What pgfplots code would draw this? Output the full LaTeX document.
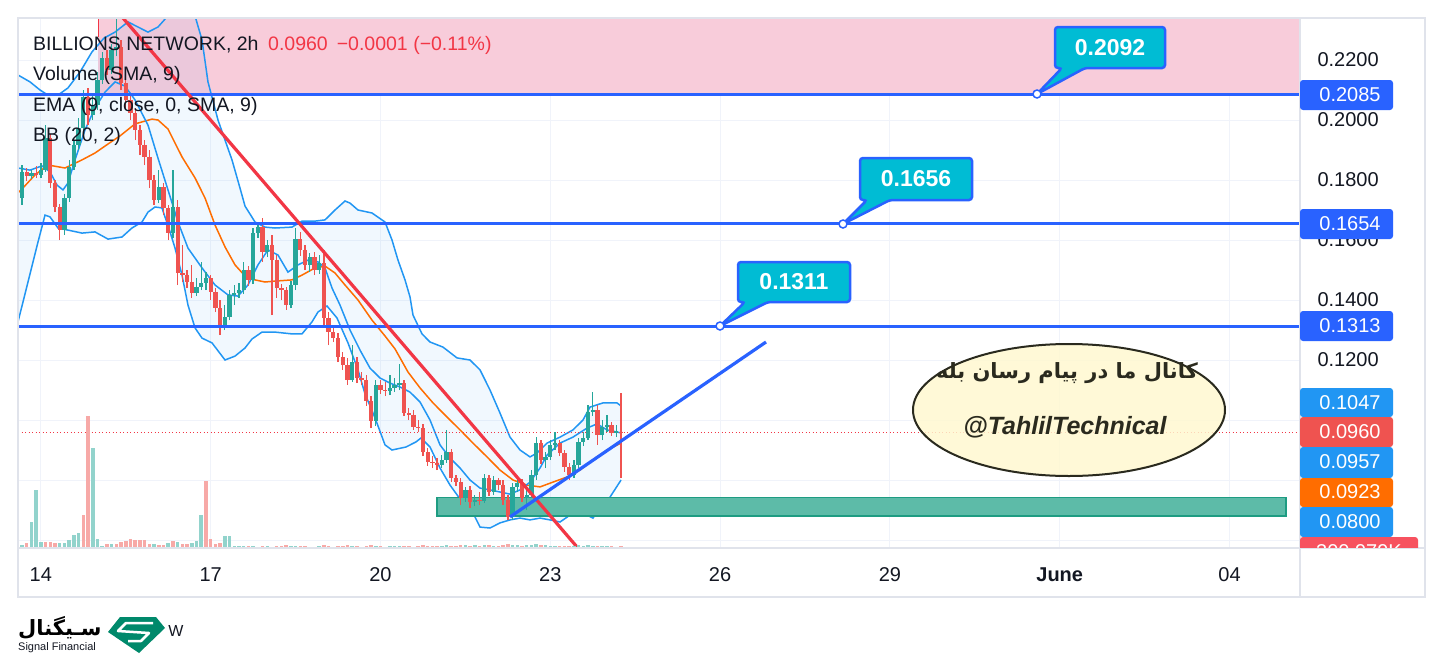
\documentclass[border=0pt]{standalone}
\usepackage{fontspec}
\setmainfont{Liberation Sans}
\newfontfamily\fafont[Script=Arabic]{DejaVu Sans}
\usepackage{pgfplots}
\usepackage{pgfplotstable}
\pgfplotsset{compat=1.18}
\TeXXeTstate=1
\definecolor{tvgreen}{HTML}{26A69A}
\definecolor{tvred}{HTML}{EF5350}
\definecolor{volgreen}{HTML}{92D3CC}
\definecolor{volred}{HTML}{F7A9A7}
\definecolor{bbline}{HTML}{2196F3}
\definecolor{emaorange}{HTML}{FF6D00}
\definecolor{lvlblue}{HTML}{2962FF}
\definecolor{pinkzone}{HTML}{F8CCDA}
\definecolor{callcyan}{HTML}{00BCD4}
\definecolor{trendred}{HTML}{F23645}
\definecolor{boxgreen}{HTML}{5DBBA8}
\definecolor{boxgreenb}{HTML}{1E9C82}
\definecolor{gridc}{HTML}{F0F3FA}
\definecolor{bordc}{HTML}{E0E3EB}
\definecolor{txtc}{HTML}{131722}
\definecolor{elltxt}{HTML}{2A2A1E}
\definecolor{ellfill}{HTML}{FFF8CF}
\definecolor{logogreen}{HTML}{00896B}
\definecolor{tagred}{HTML}{EF5350}
\definecolor{volred2}{HTML}{F7525F}
\pgfplotsset{colormap={candlemap}{color=(tvred) color=(tvgreen)},
             colormap={volmap}{color=(volred) color=(volgreen)}}

\pgfplotstableread{
i o h l c up
0 0.1740 0.1850 0.1717 0.1827 1
1 0.1827 0.1840 0.1797 0.1813 0
2 0.1813 0.1833 0.1803 0.1823 1
3 0.1823 0.1847 0.1807 0.1817 0
4 0.1817 0.1857 0.1807 0.1833 1
5 0.1833 0.1983 0.1827 0.1940 1
6 0.1940 0.1953 0.1773 0.1790 0
7 0.1790 0.1800 0.1693 0.1710 0
8 0.1710 0.1720 0.1600 0.1633 0
9 0.1633 0.1753 0.1617 0.1740 1
10 0.1740 0.1867 0.1727 0.1843 1
11 0.1843 0.1933 0.1833 0.1917 1
12 0.1917 0.2007 0.1900 0.1973 1
13 0.1973 0.2100 0.1960 0.2077 1
14 0.2077 0.2107 0.1983 0.2017 0
15 0.2017 0.2083 0.2000 0.2050 1
16 0.2050 0.2160 0.2033 0.2133 1
17 0.2133 0.2227 0.2120 0.2207 1
18 0.2207 0.2233 0.2150 0.2167 0
19 0.2167 0.2253 0.2153 0.2233 1
20 0.2233 0.2340 0.2213 0.2243 1
21 0.2243 0.2267 0.2100 0.2123 0
22 0.2123 0.2140 0.2033 0.2067 0
23 0.2067 0.2083 0.2000 0.2023 0
24 0.2023 0.2040 0.1933 0.1967 0
25 0.1967 0.1983 0.1883 0.1917 0
26 0.1917 0.1933 0.1850 0.1877 0
27 0.1877 0.1900 0.1773 0.1800 0
28 0.1800 0.1817 0.1717 0.1733 0
29 0.1733 0.1833 0.1723 0.1777 1
30 0.1777 0.1790 0.1683 0.1707 0
31 0.1707 0.1717 0.1600 0.1623 0
32 0.1623 0.1833 0.1607 0.1710 1
33 0.1710 0.1733 0.1450 0.1490 0
34 0.1490 0.1583 0.1460 0.1483 0
35 0.1483 0.1500 0.1440 0.1460 0
36 0.1460 0.1517 0.1407 0.1423 0
37 0.1423 0.1473 0.1413 0.1443 1
38 0.1443 0.1527 0.1433 0.1457 1
39 0.1457 0.1493 0.1433 0.1473 1
40 0.1473 0.1483 0.1400 0.1427 0
41 0.1427 0.1440 0.1360 0.1373 0
42 0.1373 0.1400 0.1283 0.1317 0
43 0.1317 0.1383 0.1300 0.1343 1
44 0.1343 0.1433 0.1333 0.1417 1
45 0.1417 0.1450 0.1383 0.1423 1
46 0.1423 0.1457 0.1407 0.1433 1
47 0.1433 0.1527 0.1420 0.1500 1
48 0.1500 0.1513 0.1447 0.1467 0
49 0.1467 0.1640 0.1453 0.1623 1
50 0.1623 0.1657 0.1607 0.1643 1
51 0.1643 0.1673 0.1527 0.1560 0
52 0.1560 0.1600 0.1543 0.1583 1
53 0.1583 0.1617 0.1350 0.1533 0
54 0.1533 0.1550 0.1407 0.1440 0
55 0.1440 0.1453 0.1400 0.1433 0
56 0.1433 0.1443 0.1367 0.1383 0
57 0.1383 0.1463 0.1373 0.1450 1
58 0.1450 0.1640 0.1433 0.1603 1
59 0.1603 0.1627 0.1547 0.1567 0
60 0.1567 0.1583 0.1500 0.1517 0
61 0.1517 0.1557 0.1493 0.1543 1
62 0.1543 0.1560 0.1483 0.1500 0
63 0.1500 0.1550 0.1487 0.1523 1
64 0.1523 0.1567 0.1317 0.1340 0
65 0.1340 0.1360 0.1250 0.1293 0
66 0.1293 0.1317 0.1260 0.1273 0
67 0.1273 0.1290 0.1193 0.1210 0
68 0.1210 0.1227 0.1167 0.1183 0
69 0.1183 0.1207 0.1117 0.1133 0
70 0.1133 0.1250 0.1127 0.1193 1
71 0.1193 0.1210 0.1123 0.1140 0
72 0.1140 0.1160 0.1117 0.1133 0
73 0.1133 0.1150 0.1047 0.1063 0
74 0.1063 0.1080 0.0973 0.0997 0
75 0.0997 0.1133 0.0980 0.1117 1
76 0.1117 0.1133 0.1087 0.1100 0
77 0.1100 0.1127 0.1080 0.1097 0
78 0.1097 0.1150 0.1083 0.1107 1
79 0.1107 0.1140 0.1093 0.1117 1
80 0.1117 0.1187 0.1100 0.1123 1
81 0.1123 0.1133 0.1013 0.1023 0
82 0.1023 0.1040 0.1000 0.1017 0
83 0.1017 0.1033 0.0967 0.0977 0
84 0.0977 0.1000 0.0960 0.0973 0
85 0.0973 0.0987 0.0880 0.0893 0
86 0.0893 0.0907 0.0847 0.0860 0
87 0.0860 0.0880 0.0840 0.0857 0
88 0.0857 0.0873 0.0833 0.0850 0
89 0.0850 0.0883 0.0840 0.0867 1
90 0.0867 0.0967 0.0857 0.0893 1
91 0.0893 0.0903 0.0793 0.0807 0
92 0.0807 0.0817 0.0780 0.0793 0
93 0.0793 0.0807 0.0717 0.0740 0
94 0.0740 0.0777 0.0727 0.0767 1
95 0.0767 0.0780 0.0707 0.0727 0
96 0.0727 0.0750 0.0713 0.0733 1
97 0.0733 0.0760 0.0717 0.0730 0
98 0.0730 0.0820 0.0723 0.0807 1
99 0.0807 0.0817 0.0747 0.0760 0
100 0.0760 0.0813 0.0750 0.0800 1
101 0.0800 0.0807 0.0767 0.0783 0
102 0.0783 0.0800 0.0717 0.0733 0
103 0.0733 0.0750 0.0667 0.0677 0
104 0.0677 0.0790 0.0667 0.0777 1
105 0.0777 0.0807 0.0760 0.0790 1
106 0.0790 0.0803 0.0727 0.0740 0
107 0.0740 0.0773 0.0700 0.0750 1
108 0.0750 0.0833 0.0740 0.0817 1
109 0.0817 0.0943 0.0800 0.0923 1
110 0.0923 0.0933 0.0853 0.0867 0
111 0.0867 0.0893 0.0840 0.0877 1
112 0.0877 0.0933 0.0867 0.0917 1
113 0.0917 0.0960 0.0900 0.0923 1
114 0.0923 0.0933 0.0880 0.0890 0
115 0.0890 0.0900 0.0827 0.0843 0
116 0.0843 0.0857 0.0800 0.0817 0
117 0.0817 0.0867 0.0807 0.0850 1
118 0.0850 0.0940 0.0840 0.0927 1
119 0.0927 0.0960 0.0913 0.0940 1
120 0.0940 0.1050 0.0933 0.1027 1
121 0.1027 0.1093 0.1013 0.1033 1
122 0.1033 0.1050 0.0917 0.0950 0
123 0.0950 0.1000 0.0933 0.0977 1
124 0.0977 0.1017 0.0960 0.0983 1
125 0.0983 0.0993 0.0947 0.0957 0
126 0.0957 0.0983 0.0943 0.0963 1
127 0.0961 0.1090 0.0807 0.0960 0
}\candles

\pgfplotstableread{
i v up
0 0.45 1
1 0.75 0
2 3.90 1
3 8.70 1
4 0.90 1
5 0.90 0
6 0.90 0
7 0.75 0
8 0.75 1
9 0.75 1
10 1.20 1
11 1.95 1
12 2.25 1
13 4.95 0
14 19.80 0
15 15.00 1
16 1.35 1
17 0.30 1
18 0.60 0
19 0.60 1
20 0.60 0
21 0.90 0
22 1.05 0
23 1.35 0
24 1.20 0
25 1.20 0
26 1.20 0
27 0.60 0
28 0.60 1
29 0.45 0
30 0.45 0
31 0.75 1
32 1.05 0
33 0.90 1
34 0.60 0
35 0.60 0
36 0.75 1
37 1.05 1
38 4.95 1
39 10.05 0
40 1.35 0
41 0.60 0
42 0.75 0
43 1.80 1
44 1.80 1
45 0.30 1
46 0.30 1
47 0.30 1
48 0.30 0
49 0.30 1
50 0.15 1
51 0.30 0
52 0.30 1
53 0.15 0
54 0.30 0
55 0.30 0
56 0.45 0
57 0.30 1
58 0.30 1
59 0.30 0
60 0.30 0
61 0.15 1
62 0.15 0
63 0.30 1
64 0.45 0
65 0.30 0
66 0.15 0
67 0.30 0
68 0.30 0
69 0.45 0
70 0.30 1
71 0.30 0
72 0.15 0
73 0.30 0
74 0.45 0
75 0.30 1
76 0.30 0
77 0.15 0
78 0.30 1
79 0.30 1
80 0.30 1
81 0.30 0
82 0.30 0
83 0.15 0
84 0.30 0
85 0.45 0
86 0.30 0
87 0.30 0
88 0.30 0
89 0.30 1
90 0.45 1
91 0.30 0
92 0.30 0
93 0.45 0
94 0.45 1
95 0.30 0
96 0.45 1
97 0.30 0
98 0.45 1
99 0.45 0
100 0.30 1
101 0.30 0
102 0.45 0
103 0.60 0
104 0.45 1
105 0.45 1
106 0.30 0
107 0.45 1
108 0.45 1
109 0.60 1
110 0.45 0
111 0.45 1
112 0.30 1
113 0.30 1
114 0.30 0
115 0.30 0
116 0.30 0
117 0.30 1
118 0.45 1
119 0.30 1
120 0.45 1
121 0.30 1
122 0.30 0
123 0.30 1
124 0.30 1
125 0.30 0
126 0.15 1
127 0.30 0
}\volumes

\pgfplotstableread{
x y
-0.85 0.2150
1.70 0.2127
3.82 0.2100
5.51 0.2083
7.63 0.2083
9.75 0.2107
12.30 0.2160
14.84 0.2227
17.38 0.2273
19.72 0.2293
22.47 0.2327
24.59 0.2310
26.71 0.2293
28.83 0.2310
30.53 0.2340
32.65 0.2360
34.77 0.2367
36.68 0.2347
38.16 0.2267
39.43 0.2127
41.55 0.2000
43.04 0.1933
44.52 0.1867
46.22 0.1773
47.28 0.1713
49.40 0.1660
51.52 0.1643
53.64 0.1640
57.24 0.1643
59.36 0.1663
62.12 0.1663
64.24 0.1667
66.36 0.1700
68.48 0.1730
69.54 0.1723
71.23 0.1700
74.20 0.1690
76.96 0.1660
78.44 0.1600
79.71 0.1533
81.20 0.1467
82.26 0.1410
82.89 0.1350
84.80 0.1287
86.50 0.1260
89.25 0.1243
92.22 0.1207
94.98 0.1200
97.10 0.1167
99.22 0.1100
101.34 0.1023
103.46 0.0943
105.58 0.0900
107.70 0.0877
109.18 0.0890
111.30 0.0923
114.06 0.0943
116.81 0.0967
118.93 0.1000
120.42 0.1043
123.17 0.1057
126.14 0.1057
127 0.1047
}\bbupper

\pgfplotstableread{
x y
-0.85 0.1327
1.27 0.1460
3.39 0.1593
4.88 0.1683
5.94 0.1677
7.63 0.1640
9.75 0.1633
12.72 0.1623
15.48 0.1627
18.23 0.1603
21.20 0.1610
23.32 0.1640
25.44 0.1660
26.71 0.1693
28.20 0.1710
29.68 0.1707
31.38 0.1627
32.44 0.1573
33.92 0.1483
35.19 0.1383
36.68 0.1307
38.16 0.1273
40.28 0.1257
43.04 0.1200
45.16 0.1213
47.28 0.1240
48.76 0.1270
50.88 0.1293
53.64 0.1293
57.24 0.1287
59.36 0.1287
61.48 0.1327
62.75 0.1360
64.66 0.1380
66.78 0.1340
69.11 0.1257
71.23 0.1167
72.72 0.1087
74.84 0.1007
76.96 0.0917
78.44 0.0900
81.41 0.0910
83.53 0.0927
84.59 0.0940
86.50 0.0910
88.62 0.0840
90.74 0.0783
93.49 0.0723
95.61 0.0690
97.10 0.0643
99.22 0.0640
101.34 0.0657
103.46 0.0667
105.58 0.0673
107.70 0.0667
109.82 0.0673
111.94 0.0667
114.06 0.0660
116.18 0.0683
118.93 0.0690
121.05 0.0673
122.54 0.0710
124.66 0.0743
127 0.0800
}\bblower

% band area: upper band forward, then lower band backward
\pgfplotstableread{
x y
-0.85 0.2150
1.70 0.2127
3.82 0.2100
5.51 0.2083
7.63 0.2083
9.75 0.2107
12.30 0.2160
14.84 0.2227
17.38 0.2273
19.72 0.2293
22.47 0.2327
24.59 0.2310
26.71 0.2293
28.83 0.2310
30.53 0.2340
32.65 0.2360
34.77 0.2367
36.68 0.2347
38.16 0.2267
39.43 0.2127
41.55 0.2000
43.04 0.1933
44.52 0.1867
46.22 0.1773
47.28 0.1713
49.40 0.1660
51.52 0.1643
53.64 0.1640
57.24 0.1643
59.36 0.1663
62.12 0.1663
64.24 0.1667
66.36 0.1700
68.48 0.1730
69.54 0.1723
71.23 0.1700
74.20 0.1690
76.96 0.1660
78.44 0.1600
79.71 0.1533
81.20 0.1467
82.26 0.1410
82.89 0.1350
84.80 0.1287
86.50 0.1260
89.25 0.1243
92.22 0.1207
94.98 0.1200
97.10 0.1167
99.22 0.1100
101.34 0.1023
103.46 0.0943
105.58 0.0900
107.70 0.0877
109.18 0.0890
111.30 0.0923
114.06 0.0943
116.81 0.0967
118.93 0.1000
120.42 0.1043
123.17 0.1057
126.14 0.1057
127 0.1047
127 0.0800
124.66 0.0743
122.54 0.0710
121.05 0.0673
118.93 0.0690
116.18 0.0683
114.06 0.0660
111.94 0.0667
109.82 0.0673
107.70 0.0667
105.58 0.0673
103.46 0.0667
101.34 0.0657
99.22 0.0640
97.10 0.0643
95.61 0.0690
93.49 0.0723
90.74 0.0783
88.62 0.0840
86.50 0.0910
84.59 0.0940
83.53 0.0927
81.41 0.0910
78.44 0.0900
76.96 0.0917
74.84 0.1007
72.72 0.1087
71.23 0.1167
69.11 0.1257
66.78 0.1340
64.66 0.1380
62.75 0.1360
61.48 0.1327
59.36 0.1287
57.24 0.1287
53.64 0.1293
50.88 0.1293
48.76 0.1270
47.28 0.1240
45.16 0.1213
43.04 0.1200
40.28 0.1257
38.16 0.1273
36.68 0.1307
35.19 0.1383
33.92 0.1483
32.44 0.1573
31.38 0.1627
29.68 0.1707
28.20 0.1710
26.71 0.1693
25.44 0.1660
23.32 0.1640
21.20 0.1610
18.23 0.1603
15.48 0.1627
12.72 0.1623
9.75 0.1633
7.63 0.1640
5.94 0.1677
4.88 0.1683
3.39 0.1593
1.27 0.1460
-0.85 0.1327
}\bbarea

\pgfplotstableread{
x y
-0.85 0.1840
1.70 0.1833
4.24 0.1847
5.94 0.1827
7.42 0.1783
8.69 0.1767
9.75 0.1790
11.24 0.1867
13.36 0.1967
15.48 0.2040
17.60 0.2093
19.72 0.2127
21.84 0.2113
23.96 0.2067
26.71 0.1983
28.83 0.1873
30.95 0.1767
33.07 0.1660
35.19 0.1573
38.16 0.1507
40.92 0.1450
43.67 0.1417
45.79 0.1413
47.91 0.1450
50.03 0.1517
52.15 0.1567
54.27 0.1550
56.39 0.1493
58.51 0.1517
60.63 0.1533
62.75 0.1527
64.24 0.1507
65.72 0.1440
67.42 0.1383
69.54 0.1300
71.66 0.1233
73.78 0.1173
75.90 0.1140
78.02 0.1123
80.14 0.1110
82.26 0.1093
84.38 0.1060
86.50 0.1000
88.62 0.0917
90.74 0.0873
92.86 0.0840
94.98 0.0800
97.10 0.0773
99.22 0.0767
101.34 0.0760
103.46 0.0753
105.58 0.0767
107.70 0.0793
109.82 0.0840
111.30 0.0883
114.06 0.0923
116.81 0.0943
119.78 0.0973
121.90 0.0987
124.02 0.0967
127 0.0957
}\emaline

\pgfplotstableread{
x y
-0.85 0.1757
0 0.1770
2.76 0.1817
5.51 0.1850
9.12 0.1840
12.72 0.1867
15.48 0.1890
18.23 0.1920
20.78 0.1947
23.96 0.1987
27.56 0.2003
28.83 0.2000
30.95 0.1970
33.92 0.1877
36.68 0.1807
38.80 0.1740
40.92 0.1650
43.04 0.1577
45.16 0.1517
47.28 0.1480
49.40 0.1467
51.52 0.1460
53.64 0.1463
57.24 0.1467
59.36 0.1483
62.12 0.1507
64.24 0.1513
66.36 0.1490
68.48 0.1450
71.23 0.1400
74.20 0.1333
76.96 0.1280
79.08 0.1237
81.83 0.1160
84.38 0.1107
87.13 0.1057
90.10 0.1010
92.86 0.0967
95.61 0.0923
98.58 0.0877
101.34 0.0833
104.09 0.0800
107.06 0.0783
109.82 0.0777
112.57 0.0793
115.54 0.0810
118.30 0.0833
121.05 0.0867
124.02 0.0900
127 0.0923
}\smaline

\begin{document}
\begin{tikzpicture}
\fill[white] (0,0) rectangle (1444pt,-659pt);
\begin{axis}[
  at={(18pt,-548pt)}, anchor=south west,
  width=1282pt, height=530pt, scale only axis,
  xmin=-0.848, xmax=270.94, ymin=0.057333, ymax=0.234,
  axis line style={draw=none},
  xtick={4,40,76,112,148,184,220,256},
  xticklabels={14,17,20,23,26,29,\textbf{June},04},
  ytick={0.12,0.14,0.16,0.18,0.20,0.22},
  extra y ticks={0.06,0.08,0.10},
  extra y tick labels={},
  extra y tick style={grid=major},
  yticklabel pos=right,
  scaled y ticks=false,
  yticklabel style={/pgf/number format/fixed, /pgf/number format/fixed zerofill,
    /pgf/number format/precision=4, /pgf/number format/assume math mode=true, xshift=14pt},
  major tick length=0pt,
  grid=major, grid style={draw=gridc, line width=1pt},
  tick label style={font=\fontsize{20}{24}\selectfont, text=txtc},
  xticklabel style={yshift=-16pt},
  colormap name=candlemap, point meta min=0, point meta max=1,
]
\fill[pinkzone] (axis cs:16.11,0.2085) rectangle (axis cs:270.94,0.2340);
\addplot[fill=bbline, fill opacity=0.06, draw=none] table[x=x,y=y] {\bbarea} -- cycle;
\addplot[bbline, line width=1.5pt] table[x=x,y=y] {\bbupper};
\addplot[bbline, line width=1.5pt] table[x=x,y=y] {\bblower};
\addplot[emaorange, line width=1.5pt] table[x=x,y=y] {\smaline};
\addplot[bbline, line width=1.5pt] table[x=x,y=y] {\emaline};
\addplot[trendred, line width=0.9pt, dash pattern=on 1pt off 2.5pt] coordinates {(-0.848,0.0960) (270.94,0.0960)};
\draw[boxgreenb, line width=1.2pt, fill=boxgreen] (axis cs:87.98,0.0680) rectangle (axis cs:267.97,0.0743);
% candles
\addplot[line width=1.3pt, point meta=explicit,
  quiver={u=0, v=\thisrow{h}-\thisrow{l}, colored=mapped color,
    every arrow/.append style={line width=1.3pt}}]
  table[x=i, y=l, meta=up] {\candles};
\addplot[line width=4.3pt, point meta=explicit,
  quiver={u=0, v=\thisrow{c}-\thisrow{o}, colored=mapped color,
    every arrow/.append style={line width=4.3pt}}]
  table[x=i, y=o, meta=up] {\candles};
% levels
\addplot[lvlblue, line width=3pt] coordinates {(-0.848,0.2085) (270.94,0.2085)};
\addplot[lvlblue, line width=3pt] coordinates {(-0.848,0.1654) (270.94,0.1654)};
\addplot[lvlblue, line width=3pt] coordinates {(-0.848,0.1313) (270.94,0.1313)};
% trend lines
\addplot[trendred, line width=3.2pt] coordinates {(21.41,0.2340) (117.87,0.0573)};
\addplot[lvlblue, line width=3.2pt] coordinates {(103.46,0.0677) (157.73,0.1260)};
\end{axis}

\begin{axis}[
  at={(18pt,-548pt)}, anchor=south west,
  width=1282pt, height=530pt, scale only axis,
  xmin=-0.848, xmax=270.94, ymin=0, ymax=79.5,
  hide axis,
  colormap name=volmap, point meta min=0, point meta max=1,
]
\addplot[line width=3.5pt, point meta=explicit,
  quiver={u=0, v=-\thisrow{v}, colored=mapped color,
    every arrow/.append style={line width=3.5pt}}]
  table[x=i, y=v, meta=up] {\volumes};
\end{axis}

\begin{scope}[x=1pt,y=-1pt]
% frame
\draw[bordc, line width=1.5pt] (18,18) rectangle (1425,597);
\draw[bordc, line width=1.5pt] (1300,18) -- (1300,597);
\draw[bordc, line width=1.5pt] (18,548) -- (1425,548);
\draw[trendred, line width=1pt] (98,19) -- (98,37);
% legend
\begin{scope}[every node/.style={anchor=west, inner sep=0pt, font=\fontsize{19.5}{23}\selectfont, text=txtc}]
\node at (33,45) {BILLIONS NETWORK, 2h};
\node[text=trendred] at (268,45) {0.0960\hspace{9pt}−0.0001 (−0.11\%)};
\node at (33,75) {Volume (SMA, 9)};
\node at (33,106) {EMA (9, close, 0, SMA, 9)};
\node at (33,136) {BB (20, 2)};
\end{scope}
% callouts
\draw[lvlblue, line width=2.5pt, fill=callcyan, rounded corners=3pt]
  (1055,27) -- (1165,27) -- (1165,68) -- (1085,68) -- (1037,94) -- (1062,68) -- (1055,68) -- cycle;
\node[text=white, font=\bfseries\fontsize{23}{27}\selectfont] at (1110,47.5) {0.2092};
\draw[lvlblue, line width=1.5pt, fill=white] (1037,94) circle (4pt);
\draw[lvlblue, line width=2.5pt, fill=callcyan, rounded corners=3pt]
  (860,158) -- (972,158) -- (972,200) -- (890,200) -- (843,224) -- (867,200) -- (860,200) -- cycle;
\node[text=white, font=\bfseries\fontsize{23}{27}\selectfont] at (916,179) {0.1656};
\draw[lvlblue, line width=1.5pt, fill=white] (843,224) circle (4pt);
\draw[lvlblue, line width=2.5pt, fill=callcyan, rounded corners=3pt]
  (738,262) -- (850,262) -- (850,302) -- (768,302) -- (720,326) -- (745,302) -- (738,302) -- cycle;
\node[text=white, font=\bfseries\fontsize{23}{27}\selectfont] at (794,282) {0.1311};
\draw[lvlblue, line width=1.5pt, fill=white] (720,326) circle (4pt);
% ellipse
\draw[draw=elltxt, line width=2pt, fill=ellfill, fill opacity=0.82] (1069,410) ellipse [x radius=156pt, y radius=66pt];
\node[font=\fafont\bfseries\fontsize{21}{25}\selectfont, text=elltxt] at (1067,373) {\beginR کانال ما در پیام رسان بله\endR};
\node[font=\bfseries\itshape\fontsize{25}{30}\selectfont, text=elltxt] at (1065,427) {@TahlilTechnical};
% right tags
\begin{scope}[every node/.style={text=white, inner sep=0pt, font=\fontsize{20}{24}\selectfont}]
\fill[lvlblue, rounded corners=3pt] (1300,80) rectangle (1393,110);
\node at (1350,95) {0.2085};
\fill[lvlblue, rounded corners=3pt] (1300,209) rectangle (1393,239);
\node at (1350,224) {0.1654};
\fill[lvlblue, rounded corners=3pt] (1300,311) rectangle (1393,341);
\node at (1350,326) {0.1313};
\fill[bbline, rounded corners=3pt] (1300,388) rectangle (1393,417);
\node at (1350,403) {0.1047};
\fill[tagred, rounded corners=3pt] (1300,417) rectangle (1393,447);
\node at (1350,432) {0.0960};
\fill[bbline, rounded corners=3pt] (1300,447) rectangle (1393,478);
\node at (1350,462) {0.0957};
\fill[emaorange, rounded corners=3pt] (1300,478) rectangle (1393,507);
\node at (1350,492) {0.0923};
\fill[bbline, rounded corners=3pt] (1300,507) rectangle (1393,537);
\node at (1350,522) {0.0800};
\begin{scope}
\clip (1299,530) rectangle (1425,547.5);
\fill[volred2, rounded corners=3pt] (1300,537) rectangle (1418,562);
\node at (1359,552) {300.979K};
\end{scope}
\end{scope}
% logo
\node[anchor=west, inner sep=0pt, font=\fafont\bfseries\fontsize{21}{25}\selectfont, text=black] at (18,628) {\beginR سـیگنال\endR};
\node[anchor=west, inner sep=0pt, font=\fontsize{11}{13}\selectfont, text=txtc] at (18,648) {Signal Financial};
\fill[logogreen] (120,617) -- (156,617) -- (165,628) -- (139,653) -- (108,632) -- cycle;
\draw[white, line width=2.5pt, line join=round] (153,623) -- (126,623) -- (118,631) -- (149,633) -- (141,641) -- (128,641);
\node[font=\fontsize{16}{19}\selectfont, text=txtc] at (176,631) {W};
\end{scope}
\path[use as bounding box] (0,0) rectangle (1444pt,-659pt);
\end{tikzpicture}
\end{document}
